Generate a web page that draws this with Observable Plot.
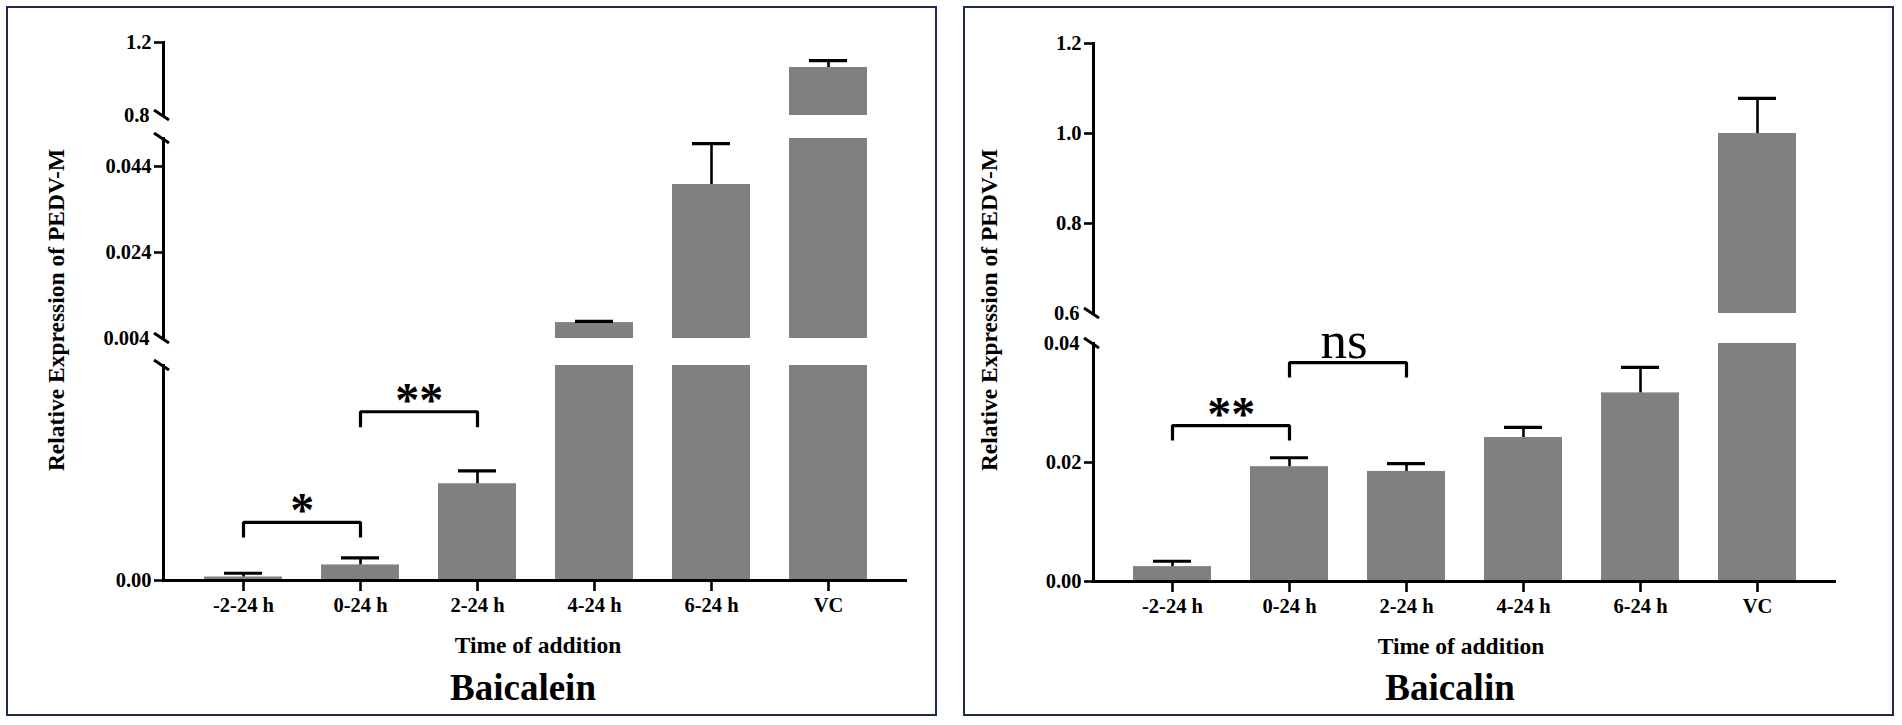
<!DOCTYPE html>
<html><head><meta charset="utf-8">
<script src="https://cdn.jsdelivr.net/npm/d3@7"></script>
<script src="https://cdn.jsdelivr.net/npm/@observablehq/plot@0.6"></script>
<style>
html,body{margin:0;padding:0;background:#fff;}
#root{position:relative;width:1902px;height:725px;overflow:hidden;background:#fff;}
.frame{position:absolute;box-sizing:border-box;border:2px solid #1f2b4e;}
</style></head><body><div id="root"></div>
<script>
// ---------- data ----------
const categories = ["-2-24 h", "0-24 h", "2-24 h", "4-24 h", "6-24 h", "VC"];
const baicaleinMean = [0.000065, 0.00029, 0.0018, 0.0077, 0.0398, 1.063];
const baicaleinSD   = [0.00007, 0.00013, 0.00024, 0.0003, 0.0095, 0.038];
const baicalinMean  = [0.0025, 0.0193, 0.0185, 0.0242, 0.0317, 1.0];
const baicalinSD    = [0.0009, 0.0015, 0.0013, 0.0017, 0.0043, 0.078];

// broken y axis segments, bottom to top
const baicaleinSegments = [[0, 0.004], [0.004, 0.0505], [0.8, 1.2]];
const baicaleinTickValues = [[0], [0.024, 0.044], [1.2]];
const baicaleinTickText   = [["0.00"], ["0.024", "0.044"], ["1.2"]];
const baicaleinBreakValues = [[], [0.004], [0.8]];
const baicaleinBreakText   = [[], ["0.004"], ["0.8"]];

const baicalinSegments = [[0, 0.04], [0.6, 1.2]];
const baicalinTickValues = [[0, 0.02], [0.8, 1.0, 1.2]];
const baicalinTickText   = [["0.00", "0.02"], ["0.8", "1.0", "1.2"]];
const baicalinBreakValues = [[0.04], [0.6]];
const baicalinBreakText   = [["0.04"], ["0.6"]];

// significance brackets
const baicaleinBracketFrom = ["-2-24 h", "0-24 h"];
const baicaleinBracketTo   = ["0-24 h", "2-24 h"];
const baicaleinBracketTop  = [0.00108, 0.00314];
const baicaleinBracketLeg  = [0.0008, 0.00285];
const baicaleinBracketText = ["*", "**"];

const baicalinBracketFrom = ["-2-24 h", "0-24 h"];
const baicalinBracketTo   = ["0-24 h", "2-24 h"];
const baicalinBracketTop  = [0.0262, 0.0368];
const baicalinBracketLeg  = [0.0237, 0.0343];
const baicalinBracketText = ["**", "ns"];

const xTitle = "Time of addition";
const yTitle = "Relative Expression of PEDV-M";
const panelTitles = ["Baicalein", "Baicalin"];

// ---------- layout ----------
const FONT = "'Liberation Serif', 'Times New Roman', serif";
const root = document.getElementById("root");
const PAD = 0.336;
const TICKFONT = 20.5;

function addFrame(l, t, w, h) {
  const d = document.createElement("div");
  d.className = "frame";
  Object.assign(d.style, {left: l + "px", top: t + "px", width: w + "px", height: h + "px"});
  root.appendChild(d);
}
addFrame(6, 6, 931, 710);
addFrame(963, 6, 931, 710);

function renderPanel(p) {
  const data = categories.map((c, i) => ({cat: c, mean: p.mean[i], sd: p.sd[i]}));
  const bracketPts = [];
  p.bFrom.forEach((f, i) => {
    bracketPts.push({id: i, x: f, y: p.bLeg[i]}, {id: i, x: f, y: p.bTop[i]},
                    {id: i, x: p.bTo[i], y: p.bTop[i]}, {id: i, x: p.bTo[i], y: p.bLeg[i]});
  });
  const bracketLabels = p.bFrom.map((f, i) => ({x: f, y: p.bTop[i], label: p.bText[i]}));
  const step = (p.width - p.ml - p.mr) / (categories.length - PAD + 2 * PAD);

  p.segments.forEach((domain, si) => {
    const isBottom = si === 0;
    const isTop = si === p.segments.length - 1;
    const [pxBottom, pxTop] = p.px[si];
    const mt = 20, mb = isBottom ? 60 : 20;
    const height = pxBottom - pxTop + mt + mb;
    const tv = p.tickValues[si], tt = p.tickText[si];
    const bv = p.breakValues[si], bt = p.breakText[si];
    const marks = [
      Plot.barY(data, {x: "cat", y: "mean", fill: "#808080", clip: true}),
      Plot.ruleX(data, {x: "cat", y1: "mean", y2: d => d.mean + d.sd, stroke: "#000", strokeWidth: 2.6, clip: true}),
      Plot.tickY(data, {x: "cat", y: d => d.mean + d.sd, inset: 20, stroke: "#000", strokeWidth: 3.2, clip: true}),
      Plot.frame({anchor: "left", stroke: "#000", strokeWidth: 3}),
      Plot.axisY({ticks: tv, tickFormat: d => tt[tv.indexOf(d)], tickSize: 9, tickPadding: 3,
                  stroke: "#000", strokeWidth: 2.6, fontSize: TICKFONT, fontWeight: "bold", label: null})
    ];
    if (bv.length) {
      marks.push(Plot.axisY({ticks: bv, tickFormat: d => bt[bv.indexOf(d)], tickSize: 0, tickPadding: 14,
                             fontSize: TICKFONT, fontWeight: "bold", label: null}));
    }
    if (isBottom) {
      marks.push(
        Plot.ruleY([domain[0]], {stroke: "#000", strokeWidth: 3}),
        Plot.axisX({tickSize: 11, tickPadding: 6, stroke: "#000", strokeWidth: 2.6, fontSize: TICKFONT, fontWeight: "bold", label: null}),
        Plot.line(bracketPts, {x: "x", y: "y", z: "id", stroke: "#000", strokeWidth: 3.2, strokeLinejoin: "miter", strokeLinecap: "butt"}),
        Plot.text(bracketLabels.filter(d => d.label !== "ns"), {x: "x", y: "y", text: "label", dx: step / 2, dy: 4,
                  lineAnchor: "bottom", fontSize: 48, fontWeight: "bold", fill: "#000"}),
        Plot.text(bracketLabels.filter(d => d.label === "ns"), {x: "x", y: "y", text: "label", dx: step / 2 - 4, dy: -5,
                  lineAnchor: "bottom", fontSize: 53, fontWeight: "normal", fill: "#000"})
      );
    }
    const plot = Plot.plot({
      width: p.width, height,
      marginLeft: p.ml, marginRight: p.mr, marginTop: mt, marginBottom: mb,
      x: {domain: categories, padding: PAD, label: null, axis: isBottom ? undefined : null},
      y: {domain, label: null},
      style: {background: "transparent", overflow: "visible", fontFamily: FONT, fontWeight: "bold", fontSize: TICKFONT + "px", color: "#000"},
      marks
    });
    // break marks on the y axis line
    const ys = plot.scale("y");
    const ends = [];
    if (!isBottom) ends.push(domain[0]);
    if (!isTop) ends.push(domain[1]);
    const svg = d3.select(plot);
    ends.forEach(v => {
      const yy = ys.apply(v);
      svg.append("line").attr("x1", p.ml - 9).attr("y1", yy - 5).attr("x2", p.ml + 6).attr("y2", yy + 5)
        .attr("stroke", "#000").attr("stroke-width", 3);
    });
    Object.assign(plot.style, {position: "absolute", left: p.left + "px", top: (pxTop - mt) + "px"});
    root.appendChild(plot);
  });
}

renderPanel({
  mean: baicaleinMean, sd: baicaleinSD, segments: baicaleinSegments,
  tickValues: baicaleinTickValues, tickText: baicaleinTickText,
  breakValues: baicaleinBreakValues, breakText: baicaleinBreakText,
  bFrom: baicaleinBracketFrom, bTo: baicaleinBracketTo, bTop: baicaleinBracketTop, bLeg: baicaleinBracketLeg, bText: baicaleinBracketText,
  px: [[580, 365], [338, 138], [115, 42]],
  left: 0, width: 940, ml: 163, mr: 33
});
renderPanel({
  mean: baicalinMean, sd: baicalinSD, segments: baicalinSegments,
  tickValues: baicalinTickValues, tickText: baicalinTickText,
  breakValues: baicalinBreakValues, breakText: baicalinBreakText,
  bFrom: baicalinBracketFrom, bTo: baicalinBracketTo, bTop: baicalinBracketTop, bLeg: baicalinBracketLeg, bText: baicalinBracketText,
  px: [[581, 343], [313, 43]],
  left: 940, width: 962, ml: 153, mr: 66
});

// titles and axis titles
const ov = d3.select(root).append("svg")
  .attr("width", 1902).attr("height", 725)
  .style("position", "absolute").style("left", "0px").style("top", "0px").style("pointer-events", "none")
  .style("font-family", FONT).style("font-weight", "bold");
[[64, 310], [997, 310]].forEach(([x, y]) => {
  ov.append("text").attr("transform", `translate(${x},${y}) rotate(-90)`).attr("text-anchor", "middle")
    .attr("font-size", 23.5).text(yTitle);
});
[[538, 653], [1461, 654]].forEach(([x, y]) => {
  ov.append("text").attr("x", x).attr("y", y).attr("text-anchor", "middle").attr("font-size", 23.5).text(xTitle);
});
[[523, 700], [1450, 700]].forEach(([x, y], i) => {
  ov.append("text").attr("x", x).attr("y", y).attr("text-anchor", "middle").attr("font-size", 37).text(panelTitles[i]);
});
</script></body></html>
